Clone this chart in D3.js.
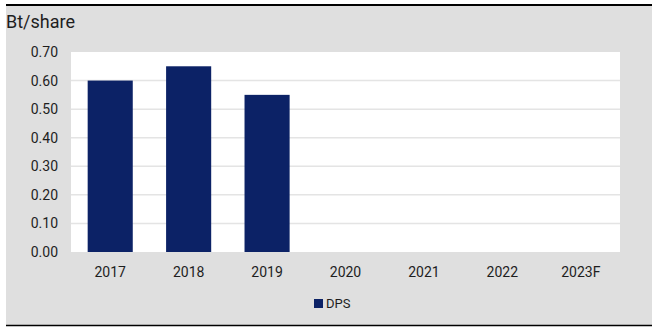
<!DOCTYPE html>
<html><head><meta charset="utf-8">
<script src="https://cdn.jsdelivr.net/npm/d3@7"></script>
<style>
html,body{margin:0;padding:0;background:#fff;}
svg{display:block;font-family:Roboto,sans-serif;}
</style></head>
<body><svg id="c" width="652" height="327"></svg>
<script>
const categories = ["2017","2018","2019","2020","2021","2022","2023F"];
const dps = [0.60, 0.65, 0.55, 0, 0, 0, 0];
const yTicks = [0,0.1,0.2,0.3,0.4,0.5,0.6,0.7];
const seriesName = "DPS";
const unitLabel = "Bt/share";

const svg = d3.select("#c");
const W = 652, H = 327;
const plot = {l:71, r:620, t:52, b:252};
const navy = "#0c2266";
const txt = "#1e1e1e";

svg.append("rect").attr("x",6).attr("y",5).attr("width",W-6).attr("height",320).attr("fill","#dfdfdf");
svg.append("line").attr("x1",6).attr("x2",W).attr("y1",5).attr("y2",5).attr("stroke","#000").attr("stroke-width",2);
svg.append("line").attr("x1",6).attr("x2",W).attr("y1",325.5).attr("y2",325.5).attr("stroke","#000").attr("stroke-width",1.5);

svg.append("rect").attr("x",plot.l).attr("y",plot.t).attr("width",plot.r-plot.l).attr("height",plot.b-plot.t).attr("fill","#fff");

const x = d3.scaleBand().domain(categories).range([plot.l,plot.r]).paddingInner(0.425).paddingOuter(0.2125);
const y = d3.scaleLinear().domain([0,0.7]).range([plot.b,plot.t]);

// gridlines
svg.append("g").selectAll("line").data(yTicks.filter(d=>d>0 && d<0.7)).join("line")
  .attr("x1",plot.l).attr("x2",plot.r).attr("y1",d=>y(d)).attr("y2",d=>y(d))
  .attr("stroke","#e4e4e4").attr("stroke-width",1.5);

// y axis labels
const yAxis = d3.axisLeft(y).tickValues(yTicks).tickFormat(d3.format(".2f")).tickSize(0).tickPadding(13);
const ga = svg.append("g").attr("transform",`translate(${plot.l},0)`).call(yAxis);
ga.select(".domain").remove();
ga.selectAll("text").attr("font-size",14).attr("fill",txt).attr("font-family","Roboto, sans-serif");

// bars
svg.append("g").selectAll("rect").data(categories.map((c,i)=>({c,v:dps[i]}))).join("rect")
  .attr("x",d=>x(d.c)).attr("width",x.bandwidth())
  .attr("y",d=>y(d.v)).attr("height",d=>y(0)-y(d.v))
  .attr("fill",navy);

// x axis
const xAxis = d3.axisBottom(x).tickSize(0).tickPadding(15);
const gx = svg.append("g").attr("transform",`translate(0,${plot.b})`).call(xAxis);
gx.select(".domain").remove();
gx.selectAll("text").attr("font-size",14).attr("fill",txt).attr("font-family","Roboto, sans-serif");

// unit label
svg.append("text").attr("x",6).attr("y",28).attr("font-size",18).attr("fill",txt).text(unitLabel);

// legend
svg.append("rect").attr("x",314).attr("y",299).attr("width",9).attr("height",9).attr("fill",navy);
svg.append("text").attr("x",326).attr("y",308).attr("font-size",13).attr("fill",txt).text(seriesName);
</script></body></html>
